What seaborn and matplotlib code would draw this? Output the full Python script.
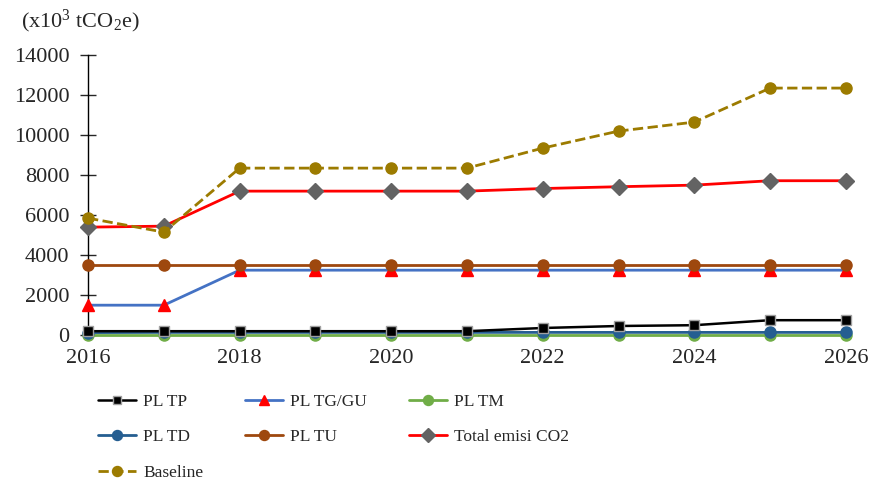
import pandas as pd
import numpy as np
import matplotlib.pyplot as plt
import seaborn as sns

# data
years = list(range(2016, 2027))
pl_tp = [200, 200, 200, 200, 200, 200, 360, 460, 500, 750, 750]
pl_tg_gu = [1500, 1500, 3250, 3250, 3250, 3250, 3250, 3250, 3250, 3250, 3250]
pl_tm = [20, 20, 20, 20, 20, 20, 20, 20, 20, 20, 20]
pl_td = [130, 140, 140, 140, 140, 140, 140, 140, 140, 140, 140]
pl_tu = [3500, 3500, 3500, 3500, 3500, 3500, 3500, 3500, 3500, 3500, 3500]
total = [5400, 5450, 7200, 7200, 7200, 7200, 7330, 7420, 7500, 7720, 7720]
baseline = [5850, 5150, 8350, 8350, 8350, 8350, 9350, 10200, 10650, 12350, 12350]

series = {
    "PL TP": pl_tp,
    "PL TG/GU": pl_tg_gu,
    "PL TM": pl_tm,
    "PL TD": pl_td,
    "PL TU": pl_tu,
    "Total emisi CO2": total,
    "Baseline": baseline,
}

df = pd.DataFrame({"Year": years, **series})
long = df.melt(id_vars="Year", var_name="Series", value_name="Value")

styles = {
    "PL TP": dict(color="black", marker="s", mfc="black", mec="#a0a0a0", ms=6.5, ls="-", lw=1.8),
    "PL TG/GU": dict(color="#4472c4", marker="^", mfc="red", mec="red", ms=8.5, ls="-", lw=2),
    "PL TM": dict(color="#70ad47", marker="o", mfc="#70ad47", mec="#70ad47", ms=8, ls="-", lw=2),
    "PL TD": dict(color="#255e91", marker="o", mfc="#255e91", mec="#255e91", ms=8, ls="-", lw=2),
    "PL TU": dict(color="#9e480e", marker="o", mfc="#9e480e", mec="#9e480e", ms=8, ls="-", lw=2),
    "Total emisi CO2": dict(color="red", marker="D", mfc="#636363", mec="#636363", ms=8, ls="-", lw=2),
    "Baseline": dict(color="#9c7b00", marker="o", mfc="#9c7b00", mec="#9c7b00", ms=8, ls="--", lw=2),
}

sns.set_style("white")
plt.rcParams['font.family'] = ['Liberation Serif', 'DejaVu Serif']
plt.rcParams['mathtext.default'] = 'regular'

fig, ax = plt.subplots(figsize=(8.72, 4.83), dpi=100)
fig.subplots_adjust(left=0.101, right=0.970, top=0.886, bottom=0.306)

order = ["PL TM", "PL TD", "PL TP", "PL TG/GU", "PL TU", "Total emisi CO2", "Baseline"]
for name in order:
    st = styles[name]
    sub = long[long["Series"] == name]
    sns.lineplot(data=sub, x="Year", y="Value", ax=ax, label=name,
                 color=st["color"], marker=st["marker"], markersize=st["ms"],
                 markerfacecolor=st["mfc"], markeredgecolor=st["mec"],
                 markeredgewidth=1.0, linestyle=st["ls"], linewidth=st["lw"],
                 clip_on=False, zorder=3)

ax.set_xlim(2016, 2026)
ax.set_ylim(0, 14000)
ax.set_xticks(range(2016, 2027, 2))
ax.set_yticks(range(0, 14001, 2000))
ax.tick_params(axis='y', direction='inout', length=11, width=1, labelsize=16, pad=8, left=True)
ax.tick_params(axis='x', length=0, labelsize=16, pad=10)
ax.set_xlabel("")
ax.set_ylabel("")
for s in ["top", "right", "bottom"]:
    ax.spines[s].set_visible(False)
ax.spines["left"].set_color("black")
ax.spines["left"].set_linewidth(1)

fig.text(0.024, 0.955, r"(x10$^{3}$ tCO$_{2}$e)", fontsize=16, ha="left", va="center")

handles, labels = ax.get_legend_handles_labels()
hmap = dict(zip(labels, handles))
# column-major order so the legend reads row by row like the reference
leg_order = ["PL TP", "PL TD", "Baseline", "PL TG/GU", "PL TU", "PL TM", "Total emisi CO2"]
ax.legend([hmap[l] for l in leg_order], leg_order, loc="upper left",
          bbox_to_anchor=(0.013, -0.21), ncol=3, frameon=False, fontsize=12.5,
          handlelength=2.2, columnspacing=2.4, labelspacing=1.1, handletextpad=0.4,
          borderpad=0, borderaxespad=0, markerscale=0.9)

plt.savefig("out.png", dpi=100)
plt.close()
